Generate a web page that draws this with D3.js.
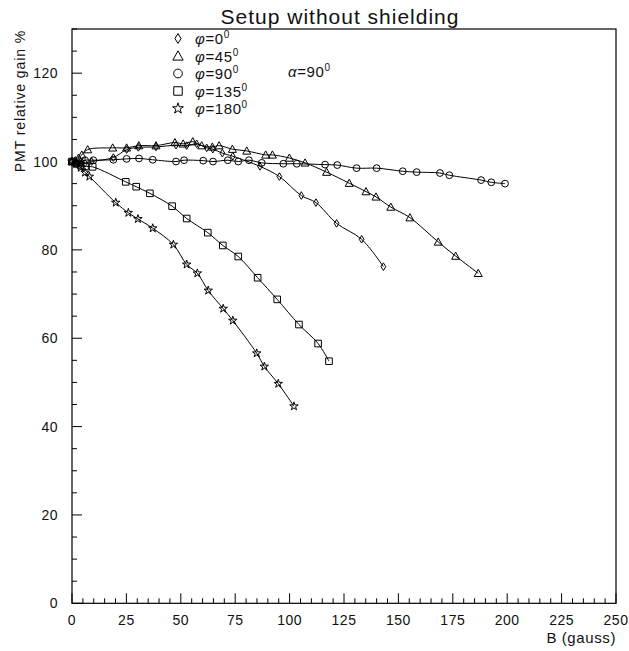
<!DOCTYPE html>
<html><head><meta charset="utf-8">
<script src="https://cdn.jsdelivr.net/npm/d3@7"></script>
<style>body{margin:0;background:#fff}svg{display:block}text{font-family:"Liberation Sans",Arial,sans-serif;fill:#111}</style>
</head><body>
<script>
// ---- data ----
const title = "Setup without shielding";
const xLabel = "B (gauss)";
const yLabel = "PMT relative gain %";
const xTicks = [0,25,50,75,100,125,150,175,200,225,250];
const yTicks = [0,20,40,60,80,100,120];
const seriesNames = ["0","45","90","135","180"];

const b0   = [0,2,4,6,9,19,25.1,30.5,38.6,47.8,52.7,57.3,61.9,64.7,69.1,73.9,86.4,95.3,105.4,112.1,121.6,133.1,143.1];
const g0   = [100,99.8,99.5,99.6,100,100.9,102.7,103.2,103.3,103.7,103.6,104.0,103.1,102.8,101.9,101.2,98.9,96.6,92.3,90.7,86.0,82.4,76.2];
const b45  = [0,1.5,3,4.5,7.2,18.7,25.1,30.7,38.6,47.3,51.1,55.5,59.6,64.5,67.6,73.7,80.3,89.0,92.1,99.9,107.1,117.0,127.4,135.1,139.7,146.5,155.3,168.3,176.3,186.7];
const g45  = [100,100.2,100.8,101.5,102.7,103.1,103.1,103.6,103.6,104.3,104.0,104.5,103.6,103.3,103.6,102.8,102.4,101.5,101.5,100.8,99.7,97.6,95.1,93.2,92.0,89.7,87.3,81.8,78.6,74.7];
const b90  = [0,2,4,6,9.8,19.0,25.1,30.8,37.1,47.8,51.5,60.3,64.8,71.6,76.4,81.3,87.2,97.1,103.3,116.3,121.9,130.8,140.0,152.0,158.4,169.1,173.4,188.0,192.7,199.0];
const g90  = [100,99.5,99.8,100.3,100.3,100.4,100.6,100.7,100.4,100.0,100.3,100.2,100.0,100.3,100.0,100.3,99.7,99.5,99.5,99.3,99.2,98.5,98.5,97.8,97.6,97.4,96.9,95.8,95.3,95.0];
const b135 = [0,2,4,6,9.5,24.7,29.5,35.8,46.0,52.7,62.4,69.3,76.4,85.3,94.3,104.3,113.1,118.1];
const g135 = [100,99.5,99.1,98.9,98.8,95.4,94.3,92.8,89.9,87.1,83.9,81.0,78.5,73.7,68.8,63.1,58.8,54.8];
const b180 = [0,2,4,6.0,8.0,20.1,25.9,30.3,37.1,46.6,52.7,57.6,62.6,69.5,73.9,84.9,88.4,94.8,102.0];
const g180 = [100,99.5,98.6,97.5,96.6,90.7,88.4,87.0,84.9,81.2,76.7,74.7,70.8,66.7,64.0,56.6,53.6,49.7,44.6];

// ---- layout ----
const W = 629, H = 651;
const L = 72, R = 616, T = 29, B = 603.3;
const svg = d3.select("body").append("svg").attr("width", W).attr("height", H);
const x = d3.scaleLinear().domain([0,250]).range([L,R]);
const y = d3.scaleLinear().domain([0,130]).range([B,T]);

// frame
svg.append("rect").attr("x",L).attr("y",T).attr("width",R-L).attr("height",B-T)
  .attr("fill","none").attr("stroke","#000").attr("stroke-width",1.2);

// x axis ticks (inward)
const xMinor = d3.range(0,251,5);
svg.append("g").selectAll("line").data(xMinor).join("line")
  .attr("x1",d=>x(d)).attr("x2",d=>x(d)).attr("y1",B).attr("y2",d=>B-(d%25===0?10:5))
  .attr("stroke","#000").attr("stroke-width",1);
svg.append("g").selectAll("text").data(xTicks).join("text")
  .attr("x",d=>x(d)).attr("y",B+22).attr("text-anchor","middle").attr("font-size",14)
  .attr("letter-spacing",0.5).text(d=>d);
// y axis ticks (inward)
const yMinor = d3.range(0,131,5);
svg.append("g").selectAll("line").data(yMinor).join("line")
  .attr("x1",L).attr("x2",d=>L+(d%20===0?10:5)).attr("y1",d=>y(d)).attr("y2",d=>y(d))
  .attr("stroke","#000").attr("stroke-width",1);
svg.append("g").selectAll("text").data(yTicks).join("text")
  .attr("x",L-14).attr("y",d=>y(d)+5).attr("text-anchor","end").attr("font-size",14)
  .attr("letter-spacing",0.5).text(d=>d);

// labels
svg.append("text").attr("x",340).attr("y",24).attr("text-anchor","middle").attr("font-size",21)
  .attr("letter-spacing",1).text(title);
svg.append("text").attr("x",R).attr("y",643).attr("text-anchor","end").attr("font-size",15)
  .attr("letter-spacing",0.6).text(xLabel);
svg.append("text").attr("transform",`translate(25,${T+1}) rotate(-90)`).attr("text-anchor","end")
  .attr("font-size",14).attr("letter-spacing",0.9).text(yLabel);

// symbols
function sym(kind, s){
  const k = s/7;
  if(kind===0) return `M0,${-3.8*k}L${2.4*k},0L0,${3.8*k}L${-2.4*k},0Z`;
  if(kind===1) return `M0,${-4*k}L${4*k},${3.2*k}L${-4*k},${3.2*k}Z`;
  if(kind===2) { const r=3.4*k; return `M${r},0A${r},${r} 0 1,1 ${-r},0A${r},${r} 0 1,1 ${r},0Z`; }
  if(kind===3) return `M${-3.3*k},${-3.3*k}H${3.3*k}V${3.3*k}H${-3.3*k}Z`;
  return d3.symbol(d3.symbolStar, 22*k*k)();
}

const series = [[b0,g0],[b45,g45],[b90,g90],[b135,g135],[b180,g180]];
const line = d3.line().x(d=>x(d[0])).y(d=>y(d[1])).curve(d3.curveCatmullRom.alpha(0.5));
series.forEach(([bs,gs],i)=>{
  const pts = bs.map((b,j)=>[b,gs[j]]);
  svg.append("path").attr("d",line(pts)).attr("fill","none").attr("stroke","#000").attr("stroke-width",1);
  svg.append("g").selectAll("path").data(pts).join("path")
    .attr("transform",d=>`translate(${x(d[0])},${y(d[1])})`)
    .attr("d",sym(i,7)).attr("fill","none").attr("stroke","#000").attr("stroke-width",1);
});

// legend
const legY = [38.5,56,73.5,91,108.5];
seriesNames.forEach((n,i)=>{
  svg.append("path").attr("transform",`translate(178,${legY[i]})`).attr("d",sym(i,9))
    .attr("fill","none").attr("stroke","#000").attr("stroke-width",1);
  const t = svg.append("text").attr("x",195).attr("y",legY[i]+5.5).attr("font-size",15).attr("letter-spacing",0.6);
  t.append("tspan").attr("font-style","italic").text("φ");
  t.append("tspan").text("="+n);
  t.append("tspan").attr("font-size",10).attr("dy",-6).text("0");
});
const a = svg.append("text").attr("x",288).attr("y",77).attr("font-size",15).attr("letter-spacing",0.6);
a.append("tspan").attr("font-style","italic").text("α");
a.append("tspan").text("=90");
a.append("tspan").attr("font-size",10).attr("dy",-6).text("0");
</script>
</body></html>
